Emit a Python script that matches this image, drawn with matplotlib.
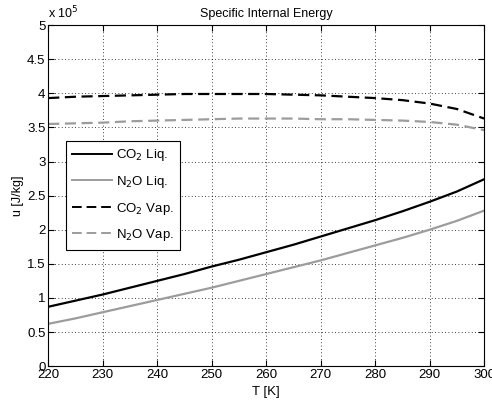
import matplotlib
matplotlib.use("Agg")
import matplotlib.pyplot as plt
from matplotlib.ticker import FuncFormatter, MultipleLocator

plt.rcParams.update({
    "font.family": ["Liberation Sans", "DejaVu Sans"],
    "font.size": 9,
})

# Data (u in J/kg)
T = [220, 225, 230, 235, 240, 245, 250, 255, 260, 265, 270, 275, 280, 285, 290, 295, 300]
co2_liq = [0.87e5, 0.96e5, 1.05e5, 1.15e5, 1.25e5, 1.35e5, 1.46e5, 1.56e5, 1.67e5,
           1.78e5, 1.90e5, 2.02e5, 2.14e5, 2.27e5, 2.41e5, 2.56e5, 2.74e5]
n2o_liq = [0.62e5, 0.70e5, 0.79e5, 0.88e5, 0.97e5, 1.06e5, 1.15e5, 1.25e5, 1.35e5,
           1.45e5, 1.55e5, 1.66e5, 1.77e5, 1.88e5, 2.00e5, 2.13e5, 2.28e5]
co2_vap = [3.93e5, 3.95e5, 3.96e5, 3.97e5, 3.98e5, 3.99e5, 3.99e5, 3.99e5, 3.99e5,
           3.98e5, 3.97e5, 3.95e5, 3.93e5, 3.90e5, 3.85e5, 3.77e5, 3.63e5]
n2o_vap = [3.55e5, 3.56e5, 3.57e5, 3.59e5, 3.60e5, 3.61e5, 3.62e5, 3.63e5, 3.63e5,
           3.63e5, 3.62e5, 3.62e5, 3.61e5, 3.60e5, 3.58e5, 3.54e5, 3.46e5]

GRAY = "#9c9c9c"

fig = plt.figure(figsize=(4.92, 4.05), dpi=100)
ax = fig.add_axes([0.098, 0.096, 0.886, 0.842])

ax.plot(T, co2_liq, color="black", lw=1.6, label="CO$_2$ Liq.")
ax.plot(T, n2o_liq, color=GRAY, lw=1.6, label="N$_2$O Liq.")
ax.plot(T, co2_vap, color="black", lw=1.6, ls=(0, (5, 2.5)), label="CO$_2$ Vap.")
ax.plot(T, n2o_vap, color=GRAY, lw=1.6, ls=(0, (5, 2.5)), label="N$_2$O Vap.")

ax.set_xlim(220, 300)
ax.set_ylim(0, 5e5)
ax.xaxis.set_major_locator(MultipleLocator(10))
ax.yaxis.set_major_locator(MultipleLocator(0.5e5))
ax.yaxis.set_major_formatter(FuncFormatter(lambda v, p: f"{v / 1e5:g}"))
ax.tick_params(direction="in", top=True, right=True, length=4, pad=2, labelsize=9.5)
ax.grid(True, ls=(0, (1, 3)), color="black", lw=0.6)
for s in ax.spines.values():
    s.set_linewidth(0.8)

ax.text(0.0, 1.01, r"x 10$^5$", transform=ax.transAxes, ha="left", va="bottom")
ax.set_title("Specific Internal Energy", fontsize=9, pad=6)
ax.set_xlabel("T [K]", labelpad=4, fontsize=9.5)
ax.set_ylabel("u [J/kg]", labelpad=2)

leg = ax.legend(loc="upper left", bbox_to_anchor=(0.025, 0.68), fancybox=False,
                edgecolor="black", framealpha=1, handlelength=3.0,
                borderpad=0.5, labelspacing=0.8, handletextpad=0.3, fontsize=9.5)
leg.get_frame().set_linewidth(0.8)
for h in leg.get_lines():
    h.set_linewidth(1.4)

fig.savefig("out.png", dpi=100)
